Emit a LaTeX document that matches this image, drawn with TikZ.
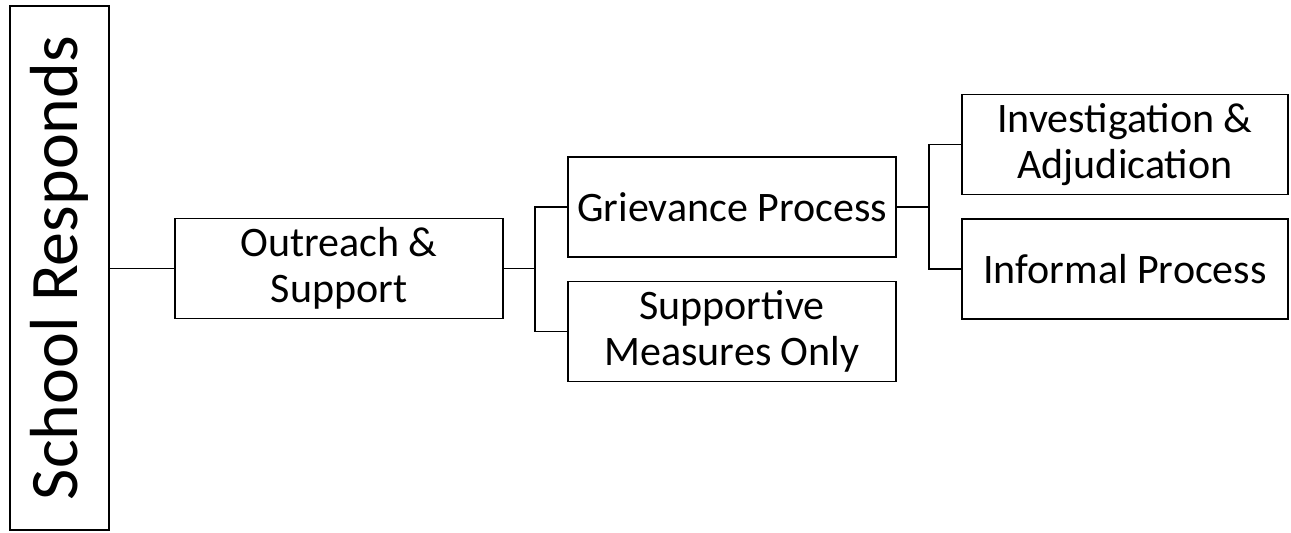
\documentclass[tikz,border=0pt]{standalone}
\usepackage{fontspec}
\setmainfont{Carlito}
\usepackage{tikz}

\tikzset{
    box/.style={draw, line width=1.3pt, minimum width=328pt, minimum height=100pt,
        align=center, inner sep=0pt, font=\fontsize{42}{46}\selectfont},
    sidebox/.style={draw, line width=1.3pt, rotate=90, minimum width=524pt,
        minimum height=99pt, inner sep=0pt, font=\fontsize{68}{72}\selectfont},
    link/.style={line width=1.1pt}
}

\begin{document}
\begin{tikzpicture}[x=1pt, y=-1pt]
        \useasboundingbox (0,0) rectangle (1291,533);

        % Left column
        \node[sidebox] (resp) at (59.5,268) {School Responds};

        % Boxes
        \node[box] (outreach) at (339,268.5) {Outreach \&\\Support};
        \node[box] (griev) at (732,207) {Grievance Process};
        \node[box] (supp) at (732,331.5) {Supportive\\Measures Only};
        \node[box, minimum width=326pt] (invest) at (1125,144.5) {Investigation \&\\Adjudication};
        \node[box, minimum width=326pt] (informal) at (1125,269) {Informal Process};

        % Branch points
        \coordinate (busA) at (535,268.5);
        \coordinate (busB) at (929,207);

        % Connectors
        \draw[link] (resp.south |- outreach.west) -- (outreach.west);
        \draw[link] (outreach.east) -- (busA);
        \draw[link] (griev.west) -| (busA);
        \draw[link] (supp.west) -| (busA);
        \draw[link] (griev.east) -- (busB);
        \draw[link] (invest.west) -| (busB);
        \draw[link] (informal.west) -| (busB);
    \end{tikzpicture}
\end{document}
